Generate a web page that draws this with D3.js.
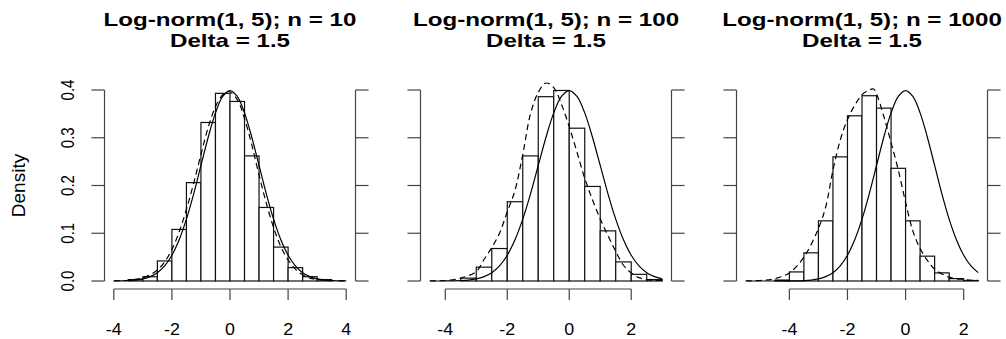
<!DOCTYPE html>
<html>
<head>
<meta charset="utf-8">
<script src="https://cdn.jsdelivr.net/npm/d3@7"></script>
<style>
  body { margin: 0; background: #fff; }
  text { font-family: "Liberation Sans", Arial, sans-serif; fill: #000; }
</style>
</head>
<body>
<script>
// titles and ticks
const panelTitles = ["Log-norm(1, 5); n = 10", "Log-norm(1, 5); n = 100", "Log-norm(1, 5); n = 1000"]
const subTitle = "Delta = 1.5"
const yLabel = "Density"
const xLimits = [[-4, 4], [-4.5, 3], [-5.5, 2.5]]
const xTicks = [[-4, -2, 0, 2, 4], [-4, -2, 0, 2], [-4, -2, 0, 2]]
const yTicks = [0, 0.1, 0.2, 0.3, 0.4]
const yTickLabels = ["0.0", "0.1", "0.2", "0.3", "0.4"]

// histogram bins (left edges, width 0.5) and densities
const binWidth = 0.5
const bins10 = [-3.5, -3, -2.5, -2, -1.5, -1, -0.5, 0, 0.5, 1, 1.5, 2, 2.5, 3]
const dens10 = [0.003, 0.009, 0.042, 0.108, 0.206, 0.332, 0.393, 0.376, 0.262, 0.154, 0.071, 0.028, 0.009, 0.003]
const bins100 = [-3.5, -3, -2.5, -2, -1.5, -1, -0.5, 0, 0.5, 1, 1.5, 2, 2.5]
const dens100 = [0.006, 0.029, 0.068, 0.166, 0.262, 0.386, 0.399, 0.320, 0.198, 0.105, 0.040, 0.014, 0.003]
const bins1000 = [-4.5, -4, -3.5, -3, -2.5, -2, -1.5, -1, -0.5, 0, 0.5, 1, 1.5, 2]
const dens1000 = [0.002, 0.019, 0.059, 0.126, 0.260, 0.346, 0.388, 0.362, 0.236, 0.126, 0.052, 0.017, 0.005, 0.001]

// solid reference curve
const normX = [-5.5, -5, -4.5, -4, -3.75, -3.5, -3.25, -3, -2.75, -2.5, -2.25, -2, -1.75, -1.5, -1.25, -1, -0.75, -0.5, -0.25,
  0, 0.25, 0.5, 0.75, 1, 1.25, 1.5, 1.75, 2, 2.25, 2.5, 2.75, 3, 3.25, 3.5, 3.75, 4]
const normY = [0, 0, 0, 0.0001, 0.0004, 0.0009, 0.0020, 0.0044, 0.0091, 0.0175, 0.0317, 0.0540, 0.0863, 0.1295, 0.1826, 0.2420, 0.3011, 0.3521, 0.3867,
  0.3989, 0.3867, 0.3521, 0.3011, 0.2420, 0.1826, 0.1295, 0.0863, 0.0540, 0.0317, 0.0175, 0.0091, 0.0044, 0.0020, 0.0009, 0.0004, 0.0001]

// dashed density curves
const kde10X = [-4, -3.5, -3, -2.75, -2.5, -2.25, -2, -1.75, -1.5, -1.25, -1, -0.75, -0.5, -0.25, -0.05, 0.25, 0.5, 0.75, 1, 1.25, 1.5, 1.75, 2, 2.25, 2.5, 2.75, 3, 3.5, 4]
const kde10Y = [0.0002, 0.0015, 0.0065, 0.013, 0.023, 0.040, 0.066, 0.103, 0.150, 0.205, 0.265, 0.322, 0.365, 0.390, 0.397, 0.380, 0.340, 0.285, 0.222, 0.163, 0.112, 0.072, 0.044, 0.025, 0.013, 0.006, 0.003, 0.0008, 0.0002]
const kde100X = [-4.5, -4, -3.5, -3, -2.75, -2.5, -2.25, -2, -1.75, -1.5, -1.25, -1, -0.75, -0.5, -0.25, 0, 0.25, 0.5, 0.75, 1, 1.25, 1.5, 1.75, 2, 2.25, 2.5, 3]
const kde100Y = [0.0005, 0.001, 0.006, 0.020, 0.045, 0.070, 0.100, 0.145, 0.190, 0.265, 0.350, 0.395, 0.415, 0.405, 0.370, 0.323, 0.270, 0.215, 0.170, 0.130, 0.095, 0.062, 0.033, 0.017, 0.007, 0.003, 0.001]
const kde1000X = [-5.5, -5, -4.5, -4, -3.5, -3, -2.75, -2.5, -2.25, -2, -1.75, -1.5, -1.25, -1.1, -1, -0.75, -0.5, -0.25, 0, 0.25, 0.5, 0.75, 1, 1.5, 2, 2.5]
const kde1000Y = [0.0005, 0.001, 0.005, 0.017, 0.050, 0.110, 0.155, 0.232, 0.295, 0.338, 0.368, 0.390, 0.400, 0.402, 0.392, 0.345, 0.290, 0.232, 0.165, 0.105, 0.068, 0.043, 0.025, 0.008, 0.003, 0.001]

const panels = [
  { bins: bins10, dens: dens10, kx: kde10X, ky: kde10Y },
  { bins: bins100, dens: dens100, kx: kde100X, ky: kde100Y },
  { bins: bins1000, dens: dens1000, kx: kde1000X, ky: kde1000Y }
]

var width = 1006
var height = 339
var plotW = 251
var plotLefts = [104.5, 420.5, 736.5]
var plotTop = 82.4
var plotBottom = 288.6

var svg = d3.select("body").append("svg")
  .attr("width", width)
  .attr("height", height)

// text in the picture is a bit wider than it is tall, so stretch it on x
function stretchedText(x, y, str, size, opts) {
  opts = opts || {}
  var g = svg.append("g")
    .attr("transform", "translate(" + x + "," + y + ") scale(" + (opts.sx || 1) + ",1)" + (opts.rotate ? " rotate(-90)" : ""))
  g.append("text")
    .attr("text-anchor", "middle")
    .attr("font-size", size)
    .attr("font-weight", opts.bold ? "bold" : "normal")
    .text(str)
}

var y = d3.scaleLinear().domain([0, 0.4]).range([281, 90])

panels.forEach(function (p, i) {
  var lim = xLimits[i]
  var ext = (lim[1] - lim[0]) * 0.04
  var x = d3.scaleLinear()
    .domain([lim[0] - ext, lim[1] + ext])
    .range([plotLefts[i], plotLefts[i] + plotW])

  var clipId = "clip" + i
  svg.append("clipPath").attr("id", clipId)
    .append("rect")
    .attr("x", plotLefts[i]).attr("y", plotTop)
    .attr("width", plotW).attr("height", plotBottom - plotTop)

  // histogram
  var g = svg.append("g").attr("clip-path", "url(#" + clipId + ")")
  g.selectAll("rect.bar")
    .data(p.bins.map(function (b, k) { return { x0: b, h: p.dens[k] } }))
    .join("rect")
    .attr("class", "bar")
    .attr("x", function (d) { return x(d.x0) })
    .attr("y", function (d) { return y(d.h) })
    .attr("width", function (d) { return x(d.x0 + binWidth) - x(d.x0) })
    .attr("height", function (d) { return y(0) - y(d.h) })
    .attr("fill", "white")
    .attr("stroke", "#111")
    .attr("stroke-width", 1.2)

  var line = d3.line()
    .x(function (d) { return x(d[0]) })
    .y(function (d) { return y(d[1]) })
    .curve(d3.curveCatmullRom)

  var normPts = normX.map(function (v, k) { return [v, normY[k]] })
    .filter(function (d) { return d[0] >= lim[0] && d[0] <= lim[1] })
  g.append("path")
    .attr("d", line(normPts))
    .attr("fill", "none")
    .attr("stroke", "black")
    .attr("stroke-width", 1.2)

  var kdePts = p.kx.map(function (v, k) { return [v, p.ky[k]] })
  g.append("path")
    .attr("d", line(kdePts))
    .attr("fill", "none")
    .attr("stroke", "black")
    .attr("stroke-width", 1.2)
    .attr("stroke-dasharray", "6,4")

  // x axis
  var ax = svg.append("g").attr("stroke", "#444").attr("stroke-width", 1.2)
  var xt = xTicks[i]
  ax.append("line")
    .attr("x1", x(xt[0])).attr("x2", x(xt[xt.length - 1]))
    .attr("y1", 289).attr("y2", 289)
  xt.forEach(function (t) {
    ax.append("line")
      .attr("x1", x(t)).attr("x2", x(t))
      .attr("y1", 289).attr("y2", 300)
    stretchedText(x(t), 335, String(t), 17, { sx: 1.05 })
  })

  // left and right y axes, ticks pointing outwards
  ;[[plotLefts[i], -13], [plotLefts[i] + plotW, 13]].forEach(function (side) {
    ax.append("line")
      .attr("x1", side[0]).attr("x2", side[0])
      .attr("y1", y(yTicks[0])).attr("y2", y(yTicks[yTicks.length - 1]))
    yTicks.forEach(function (t) {
      ax.append("line")
        .attr("x1", side[0]).attr("x2", side[0] + side[1])
        .attr("y1", y(t)).attr("y2", y(t))
    })
  })

  if (i === 0) {
    yTicks.forEach(function (t, k) {
      stretchedText(74, y(t), yTickLabels[k], 15, { sx: 1.2, rotate: true })
    })
    stretchedText(25, (plotTop + plotBottom) / 2, yLabel, 19, { sx: 0.95, rotate: true })
  }

  // titles
  var cx = plotLefts[i] + plotW / 2
  stretchedText(cx, 26, panelTitles[i], 17.5, { bold: true, sx: 1.38 })
  stretchedText(cx, 47, subTitle, 17.5, { bold: true, sx: 1.38 })
})
</script>
</body>
</html>
